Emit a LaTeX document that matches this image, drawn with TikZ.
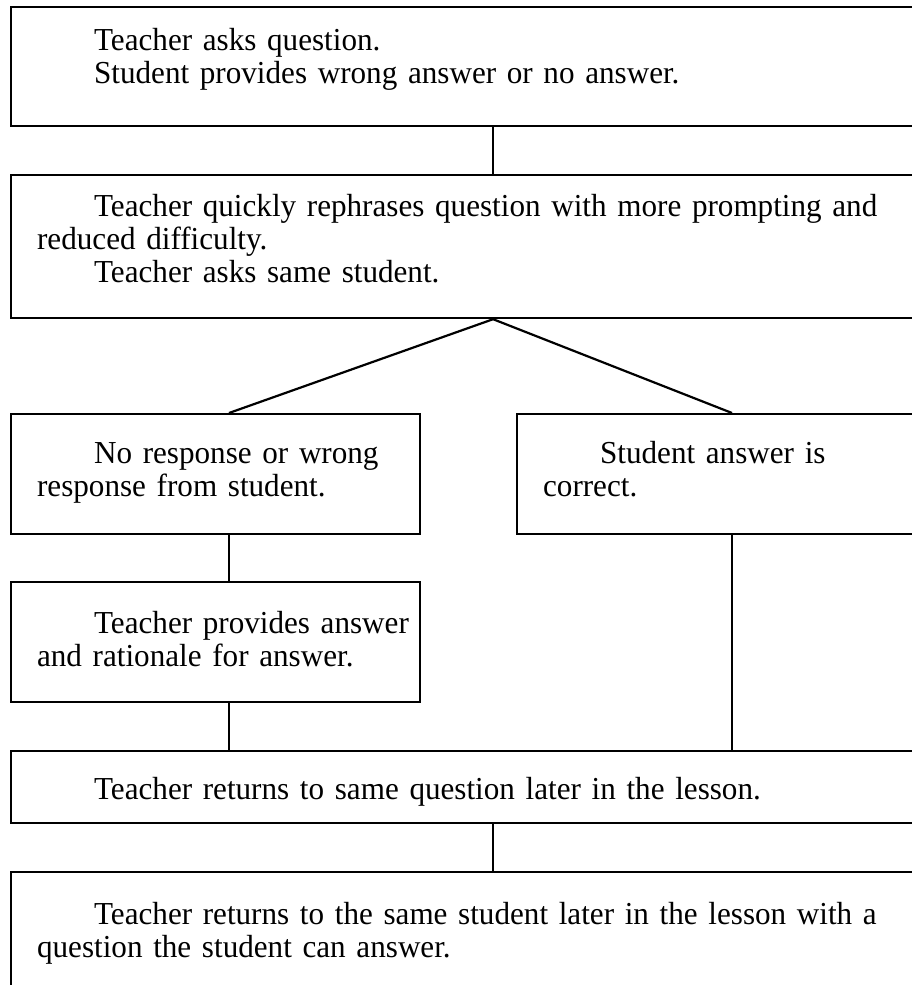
\documentclass[tikz,border=0pt]{standalone}
\usepackage{fontspec}
\setmainfont[FakeStretch=0.973]{Liberation Serif}
\usepackage{tikz}
\usetikzlibrary{positioning}

\newcommand{\flowfont}{\fontsize{16}{16.5}\selectfont}

\begin{document}
\begin{tikzpicture}[
                box/.style={rectangle, draw=black, line width=1.1pt, inner xsep=13pt,
                            inner ysep=0pt, align=left, anchor=north west, font=\flowfont,
                            text height=12pt},
                wide/.style 2 args={box, text width=456pt, minimum height=#1, text depth=#2},
                half/.style={box, text width=178.5pt, minimum height=60pt, text depth=#1},
                link/.style={line width=1.1pt, black}
            ]
                \useasboundingbox (0,0) rectangle (455.5pt,-492.5pt);
                \coordinate (lcol) at (114.5pt,0);
                \coordinate (rcol) at (366pt,0);

                \node[wide={59.5pt}{28pt}] (ask) at (5pt,-3pt)
                    {\hspace*{28.5pt}Teacher asks question.\\
                     \hspace*{28.5pt}Student provides wrong answer or no answer.};
                \node[wide={71.5pt}{42pt}, below=23.4pt of ask] (rephrase)
                    {\hspace*{28.5pt}Teacher quickly rephrases question with more prompting and\\
                     reduced difficulty.\\
                     \hspace*{28.5pt}Teacher asks same student.};
                \node[half=23pt, below=46.9pt of rephrase.south west, anchor=north west]
                    (wrong) {\hspace*{28.5pt}No response or wrong\\response from student.};
                \node[half=23pt, right=47.4pt of wrong, text width=203.5pt]
                    (correct) {\hspace*{28.5pt}Student answer is\\correct.};
                \node[half=21pt, below=22.9pt of wrong]
                    (provide) {\mbox{\hspace*{28.5pt}Teacher provides answer}\\and rationale for answer.};
                \node[wide={36pt}{0pt}, below=23.4pt of provide.south west, anchor=north west]
                    (later) {\hspace*{28.5pt}Teacher returns to same question later in the lesson.};
                \node[wide={80pt}{39.5pt}, below=23.4pt of later]
                    (student) {\hspace*{28.5pt}Teacher returns to the same student later in the lesson with a\\
                               question the student can answer.};

                \draw[link] (ask) -- (rephrase);
                \draw[link] (rephrase.south) -- (wrong.north -| lcol);
                \draw[link] (rephrase.south) -- (correct.north -| rcol);
                \draw[link] (wrong.south -| lcol) -- (provide.north -| lcol);
                \draw[link] (provide.south -| lcol) -- (later.north -| lcol);
                \draw[link] (correct.south -| rcol) -- (later.north -| rcol);
                \draw[link] (later) -- (student);
            \end{tikzpicture}
\end{document}
